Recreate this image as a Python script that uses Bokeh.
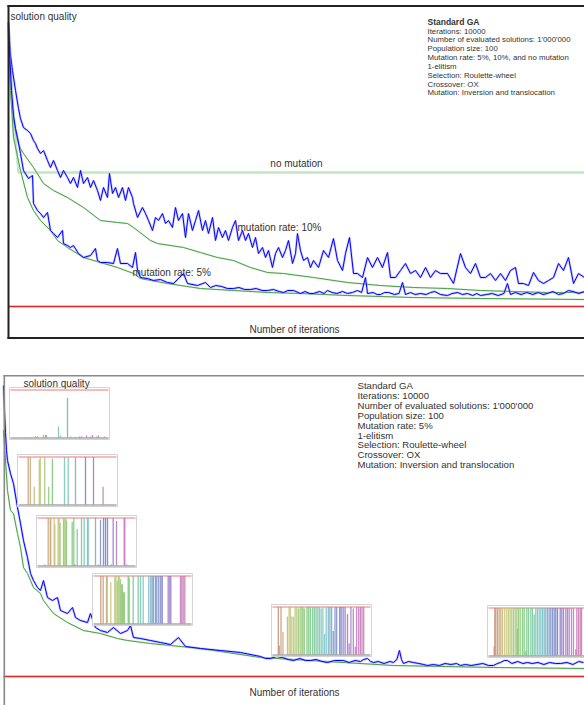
import colorsys
from bokeh.plotting import figure
from bokeh.models import Range1d
from bokeh.layouts import column
from bokeh.core.properties import value
from bokeh.embed import file_html
from bokeh.resources import INLINE

# ---------------- data (iteration, solution quality above optimum) ----------------
# top panel
mut10_top = [(0,284),(17,266),(35,251),(69,236),(122,216),(174,198),(208,188),(260,179),(330,176),(382,173),
             (434,166),(469,163),(503,158),(556,153),(608,156),(677,146),(729,139),(781,146),(851,136),(903,129),
             (955,136),(1024,129),(1076,123),(1128,129),(1198,119),(1250,136),(1302,123),(1372,129),(1424,119),(1476,126),
             (1545,116),(1597,106),(1649,119),(1719,109),(1753,133),(1806,113),(1858,119),(1910,109),(1979,119),(2031,106),
             (2083,119),(2153,109),(2170,103),(2240,89),(2326,99),(2378,93),(2431,86),(2500,76),(2552,89),(2604,86),
             (2674,93),(2726,83),(2778,86),(2847,79),(2899,99),(2951,86),(3021,93),(3073,69),(3125,93),(3194,76),
             (3247,86),(3299,96),(3368,76),(3420,86),(3472,73),(3542,89),(3594,66),(3646,79),(3715,69),(3767,76),
             (3819,66),(3889,79),(3941,86),(3993,66),(4063,76),(4115,66),(4167,73),(4236,59),(4288,69),(4340,53),
             (4410,59),(4462,49),(4514,56),(4583,39),(4635,53),(4688,59),(4757,49),(4809,56),(4861,66),(4931,43),
             (4983,53),(5017,73),(5069,56),(5122,46),(5191,49),(5243,39),(5295,46),(5382,39),(5469,56),(5556,49),
             (5642,68),(5712,46),(5799,36),(5851,53),(5920,69),(5990,33),(6059,33),(6146,29),(6233,49),(6319,39),
             (6406,49),(6493,39),(6580,54),(6632,29),(6719,29),(6806,36),(6892,43),(6979,33),(7066,36),(7153,29),
             (7240,39),(7326,29),(7413,36),(7500,33),(7622,33),(7726,23),(7847,53),(7934,39),(8021,33),(8108,43),
             (8194,29),(8281,29),(8368,33),(8455,26),(8542,33),(8628,26),(8715,36),(8802,39),(8854,23),(8941,23),
             (9028,21),(9115,34),(9201,26),(9288,23),(9375,26),(9462,29),(9549,43),(9635,36),(9722,49),(9809,23),
             (9896,33),(10000,29)]
mut5_top = [(0,284),(17,256),(52,216),(87,191),(122,178),(156,169),(208,153),(260,136),(347,128),(417,131),
            (434,103),(503,96),(556,93),(608,89),(677,94),(729,76),(781,73),(851,69),(938,76),(955,63),
            (1024,61),(1076,59),(1128,61),(1215,53),(1302,49),(1424,51),(1510,58),(1545,46),(1597,44),(1719,44),
            (1823,43),(1892,58),(1944,43),(2066,43),(2153,39),(2205,54),(2240,36),(2292,29),(2413,28),(2517,26),
            (2640,27),(2760,24),(2865,23),(3038,33),(3108,23),(3281,21),(3420,24),(3507,19),(3600,21),(3700,20),
            (3800,18),(3906,18),(4000,19),(4100,17),(4200,17),(4300,18),(4400,16),(4497,16),(4600,17),(4700,15),
            (4774,14),(4850,16),(4950,16),(5069,13),(5150,15),(5230,13),(5295,13),(5400,15),(5480,13),(5538,16),
            (5620,14),(5700,13),(5800,15),(5885,13),(5970,14),(6059,16),(6130,14),(6198,29),(6233,13),(6330,14),
            (6400,12),(6458,12),(6530,14),(6600,14),(6700,12),(6780,13),(6840,24),(6892,12),(6980,14),(7060,12),
            (7153,13),(7250,12),(7330,14),(7400,15),(7500,12),(7622,11),(7700,13),(7800,14),(7880,12),(7969,13),
            (8060,11),(8130,13),(8194,11),(8300,12),(8400,13),(8500,11),(8600,13),(8663,23),(8715,12),(8800,14),
            (8900,12),(9000,14),(9100,12),(9200,14),(9280,12),(9358,13),(9450,15),(9550,12),(9635,13),(9720,16),
            (9800,15),(9900,13),(10000,15)]
best10_top = [(0,281),(17,246),(52,206),(87,186),(156,166),(208,158),(260,153),(434,139),(608,123),(781,116),
              (1024,109),(1302,99),(1597,86),(1892,84),(2066,83),(2170,79),(2465,66),(2587,63),(3038,59),(3333,54),
              (3628,49),(3906,46),(4201,39),(4497,34),(4774,33),(5295,29),(5885,24),(6458,21),(7031,19),(7622,18),
              (8194,16),(8767,15),(9358,14),(10000,14)]
best5_top = [(0,276),(35,216),(87,169),(208,136),(330,109),(434,96),(556,86),(729,76),(851,66),(1024,59),
             (1302,49),(1597,44),(1892,39),(2170,33),(2292,28),(2760,23),(3333,18),(3906,16),(4497,14),(5069,13),
             (5885,11),(6458,10),(7031,9),(8194,8),(10000,7)]
nomut_top = [(0,284),(35,246),(69,206),(122,166),(174,134),(10000,134)]

# bottom panel
mut5_bot = [(0,291),(17,266),(34,244),(52,226),(69,216),(120,203),(172,193),(241,169),(293,153),(344,136),
            (413,119),(465,103),(516,96),(585,89),(637,86),(688,96),(757,79),(843,76),(929,79),(981,66),
            (1101,63),(1188,69),(1239,59),(1325,56),(1446,54),(1497,63),(1583,49),(1669,46),(1790,44),(1893,49),
            (2014,43),(2134,46),(2186,51),(2237,39),(2358,38),(2530,36),(2702,34),(2874,32),(3012,39),(3132,30),
            (3390,28),(3735,26),(4079,24),(4423,20),(4510,18),(4595,18),(4700,20),(4800,19),(4900,17),(4991,16),
            (5100,18),(5200,16),(5283,16),(5380,17),(5480,15),(5576,14),(5700,16),(5850,16),(5950,14),(6050,16),
            (6144,15),(6200,17),(6265,18),(6320,15),(6368,14),(6450,15),(6550,13),(6650,15),(6712,14),(6770,17),
            (6815,26),(6850,17),(6884,13),(6970,15),(7056,14),(7150,13),(7230,12),(7297,11),(7400,12),(7500,11),
            (7600,13),(7700,12),(7800,13),(7865,11),(7950,12),(8050,11),(8150,12),(8250,13),(8350,11),(8433,11),
            (8500,13),(8554,14),(8620,16),(8674,16),(8750,13),(8850,15),(8940,13),(9018,14),(9100,13),(9200,14),
            (9300,12),(9400,14),(9500,13),(9586,13),(9700,14),(9800,12),(9900,15),(9983,14)]
best5_bot = [(0,246),(69,186),(120,166),(172,163),(241,143),(293,129),(344,109),(413,103),(465,96),(516,89),
             (637,83),(688,76),(861,63),(1101,54),(1377,46),(1669,43),(1962,38),(2134,36),(2530,33),(3390,28),
             (4423,19),(5283,16),(6712,11),(8433,9),(10000,8)]

# population snapshots (gene position 0..100, share of population 0..1)
snap1 = [(15,0.02),(21,0.02),(26,0.04),(28,0.04),(34,0.06),(36,0.07),(37,0.06),(49,0.24),(51,0.05),(58,0.84),
         (61,0.03),(66,0.02),(70,0.03),(72,0.03),(77,0.05),(81,0.03),(83,0.06),(87,0.03),(89,0.05),(95,0.03)]
snap2 = [(10.7,1),(12.8,1),(16.8,0.38),(21.8,0.95),(22.8,1),(27.2,1),(31.2,0.38),(34.9,0.97),(47,1),(50.7,1),
         (58,1),(68,1),(76,1),(85.6,0.38)]
snap3 = [(8.3,0.03),(11.7,1),(13.7,1),(14.3,1),(17.7,1),(18.3,0.87),(21.7,1),(22.7,1),(23.7,0.9),(27,1),
         (27.7,1),(29.3,1),(30,0.95),(35.7,0.92),(37.3,1),(38.3,0.04),(40.7,0.77),(45,1),(47.7,1),(51,1),
         (51.7,1),(59,1),(61.7,0.03),(64,0.96),(67,1),(69,1),(71,1),(74.7,0.03),(76.7,1),(80,0.94),
         (87.7,1),(88.3,1),(90,0.03)]
snap4 = [(8.3,1),(10.7,1),(14,1),(14.7,1),(18.3,0.87),(22.3,1),(23.3,1),(24.7,0.9),(25.7,1),(26.7,1),
         (28,0.94),(29,0.83),(30,0.83),(31,0.66),(32,0.66),(35.7,1),(36.7,0.97),(40.7,1),(45.7,1),(48,1),
         (50.7,1),(56.3,1),(58.3,1),(59.7,1),(61,1),(63,1),(64.3,1),(66.3,1),(68.3,1),(69.7,1),
         (75.7,1),(77.3,1),(78.3,1),(88,1),(89.3,1),(90.7,1),(92.3,1)]
snap5 = [(6.8,1),(7.8,0.2),(9.5,1),(11.5,0.48),(15.9,0.8),(17.6,1),(18.9,1),(20.3,0.8),(22,0.8),(23.6,1),
         (25.3,1),(27,0.97),(28.7,1),(30.4,1),(31.4,1),(32.8,0.97),(35.5,1),(37.2,1),(38.9,1),(41.2,1),
         (42.9,1),(44.6,1),(46.3,1),(48,1),(49.7,0.97),(51.4,1),(53,0.44),(54.7,1),(56.8,1),(58.4,1),
         (60.1,1),(61.8,0.5),(63.5,1),(65.2,1),(68.2,1),(69.6,1),(71.6,1),(73.6,1),(76,0.85),(77.7,0.24),
         (79.4,1),(81.8,0.97),(83.8,0.17),(85.1,1),(87.2,1),(88.9,1),(90.5,1),(92.2,1)]
snap6 = [(6.7,0.2),(7.3,1),(8.3,1),(10,1),(11.7,1),(13.3,1),(15,1),(17.3,1),(19.3,1),(21,1),
         (22.7,1),(24.3,1),(26,1),(27.7,1),(29.3,1),(30,0.57),(31,1),(32.7,1),(35,1),(36.7,1),
         (38.3,0.11),(39.3,1),(41,1),(43.3,1),(45,1),(46.7,0.87),(48.3,1),(50,1),(51.7,1),(53.3,1),
         (55,1),(56.7,1),(58.3,1),(60,1),(61.7,1),(63.3,1),(65,1),(66.7,1),(68.3,1),(70,1),
         (72.7,1),(74.3,1),(76,1),(78.3,1),(80,1),(81.7,1),(84,1),(86,1),(88.3,0.14),(89.3,1),
         (91,1),(92.7,1),(94,1)]
snapshots = [snap1, snap2, snap3, snap4, snap5, snap6]

# texts
y_label = "solution quality"
x_label = "Number of iterations"
info_top = ["Standard GA", "Iterations: 10000", "Number of evaluated solutions: 1'000'000",
            "Population size: 100", "Mutation rate: 5%, 10%, and no mutation", "1-elitism",
            "Selection: Roulette-wheel", "Crossover: OX", "Mutation: Inversion and translocation"]
info_bot = ["Standard GA", "Iterations: 10000", "Number of evaluated solutions: 1'000'000",
            "Population size: 100", "Mutation rate: 5%", "1-elitism",
            "Selection: Roulette-wheel", "Crossover: OX", "Mutation: Inversion and translocation"]
curve_labels = ["no mutation", "mutation rate: 10%", "mutation rate: 5%"]

# ---------------- styling / layout ----------------
FONT = value("Liberation Sans")
TXT = "#333333"
BLUE, BLUE_HALO = "#0000ff", "#9a9aff"
GREEN, GREEN_HALO = "#45a045", "#c4e5c4"
RED, RED_HALO = "#e02a2a", "#f6b8b8"
W = 584


def unzip(pairs):
    return [a for a, _ in pairs], [b for _, b in pairs]


def make_fig(h, xr, yr, py_range):
    p = figure(width=W, height=h, x_range=Range1d(*xr), y_range=Range1d(*yr),
               x_axis_type=None, y_axis_type=None, output_backend="svg",
               toolbar_location=None, min_border=0)
    p.outline_line_color = None
    p.background_fill_color = "white"
    p.border_fill_color = "white"
    p.extra_x_ranges = {"px": Range1d(0, W)}
    p.extra_y_ranges = {"py": Range1d(*py_range)}
    return p


def label(p, x, y, txt, size, align="left", bold=False):
    p.text(x=[x], y=[y], text=[txt], x_range_name="px", y_range_name="py",
           text_font=FONT, text_font_size=f"{size}px", text_align=align,
           text_baseline="middle", text_color=TXT,
           text_font_style="bold" if bold else "normal")


def curve(p, pairs, color, halo, w=1.0, hw=2.4, halo_alpha=0.55):
    xs, ys = unzip(pairs)
    p.line(xs, ys, line_color=halo, line_width=hw, line_alpha=halo_alpha)
    p.line(xs, ys, line_color=color, line_width=w)


def optimum(p):
    p.line([0, 10000], [0, 0], line_color=RED_HALO, line_width=3)
    p.line([0, 10000], [0, 0], line_color=RED, line_width=1.2)


def pline(p, xs, ys, color, w):
    p.line(xs, ys, x_range_name="px", y_range_name="py", line_color=color, line_width=w)


def hue_color(pos):
    h = ((3.6 * pos - 10) % 360) / 360.0
    r, g, b = colorsys.hls_to_rgb(h, 0.62, 0.42)
    return "#%02x%02x%02x" % (int(r * 255), int(g * 255), int(b * 255))


# ---------------- top panel (page y 0..340, frame from x=8) ----------------
top = make_fig(340, (-8 * 10000 / 576, 10000), (306 - 340, 306), (340, 0))
curve(top, nomut_top, GREEN_HALO, GREEN_HALO, w=2, hw=2, halo_alpha=1)
curve(top, best10_top, GREEN, GREEN_HALO, hw=2.0)
curve(top, best5_top, GREEN, GREEN_HALO, hw=2.0)
curve(top, mut10_top, BLUE, BLUE_HALO)
curve(top, mut5_top, BLUE, BLUE_HALO)
optimum(top)
pline(top, [8, 8], [4.5, 338.5], "#222222", 2)
pline(top, [7, 584], [5.5, 5.5], "#222222", 2)
pline(top, [7, 584], [337.5, 337.5], "#222222", 2)

label(top, 10, 16, y_label, 10)
label(top, 294, 329, x_label, 10, align="center")
label(top, 296, 163, curve_labels[0], 10, align="center")
label(top, 237, 227, curve_labels[1], 10)
label(top, 132, 272, curve_labels[2], 10)
label(top, 427, 21, info_top[0], 8.5, bold=True)
for i, t in enumerate(info_top[1:]):
    label(top, 427, 30.5 + 8.85 * i, t, 7.8)

# ---------------- bottom panel (page y 370..705, frame from x=3) ----------------
bot = make_fig(335, (-3 * 10000 / 581, 10000), (676 - 705, 676 - 370), (705, 370))
curve(bot, best5_bot, GREEN, GREEN_HALO, hw=2.0)
curve(bot, mut5_bot, BLUE, BLUE_HALO)
optimum(bot)
pline(bot, [3.8, 3.8], [374.5, 705], "#888888", 1.6)
pline(bot, [3, 584], [375.3, 375.3], "#888888", 1.6)

inset_left = [9, 17, 36, 92, 271, 487]
inset_top = [387, 454, 515, 573, 604, 605]
IW, IH = 100, 52
for L, T, snap in zip(inset_left, inset_top, snapshots):
    bot.quad(left=[L], right=[L + IW], top=[T], bottom=[T + IH], x_range_name="px",
             y_range_name="py", fill_color="white", line_color="#d4d4d4", line_width=1)
    red_y, base_y = T + 2.5, T + 50.5
    pline(bot, [L + 1, L + IW - 1], [red_y, red_y], "#f4a4a4", 1.4)
    pos, share = unzip(snap)
    bot.quad(left=[L + s - 0.65 for s in pos], right=[L + s + 0.65 for s in pos],
             bottom=[base_y] * len(pos), top=[base_y - h * (base_y - red_y) for h in share],
             x_range_name="px", y_range_name="py",
             fill_color=[hue_color(s) for s in pos], fill_alpha=0.85, line_color=None)
    pline(bot, [L + 1, L + IW - 1], [base_y, base_y], "#a8a8a8", 1.4)

label(bot, 23, 383, y_label, 10)
label(bot, 294, 692, x_label, 10, align="center")
for i, t in enumerate(info_bot):
    label(bot, 357, 385 + 9.9 * i, t, 9.6)

layout = column(top, bot, spacing=30)
open("out.html", "w").write(file_html(layout, INLINE))
